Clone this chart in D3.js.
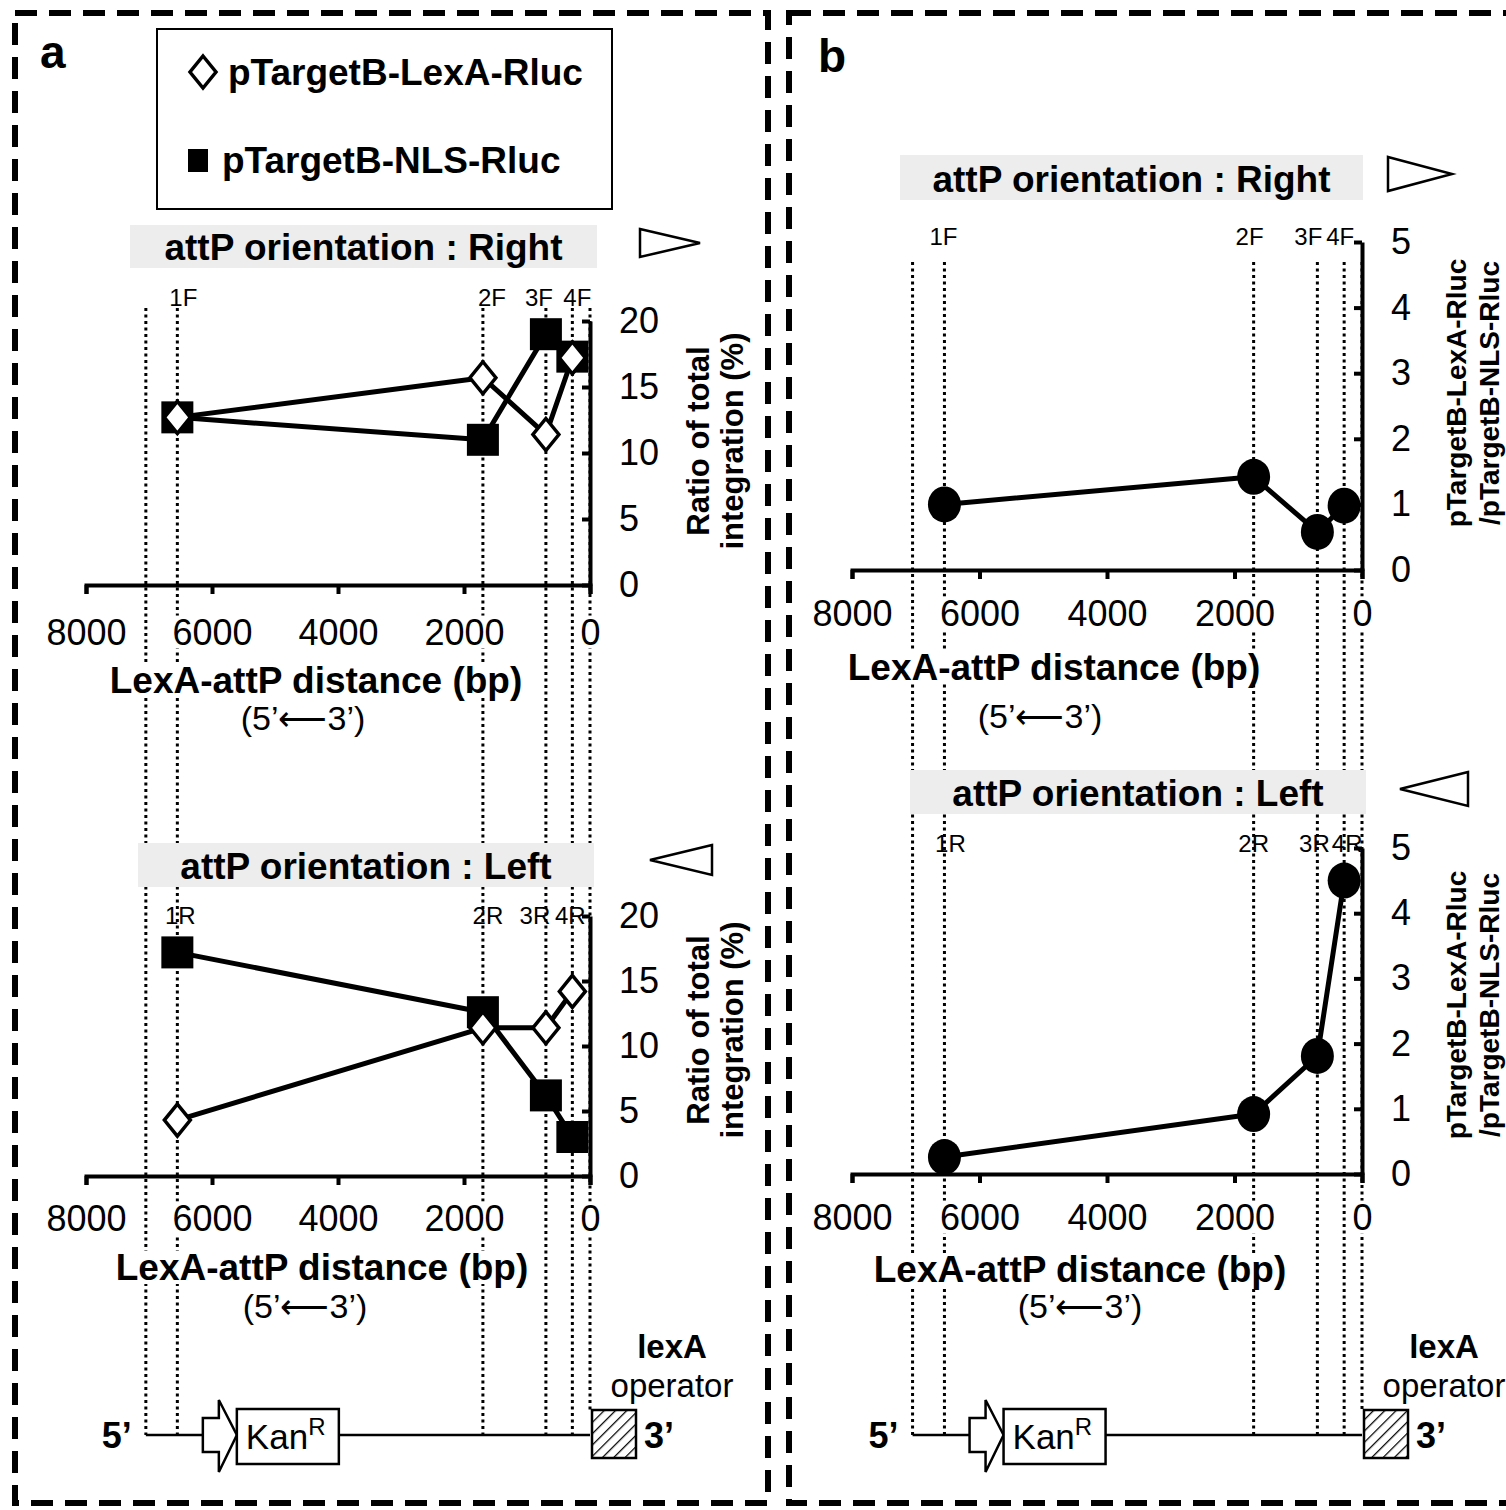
<!DOCTYPE html>
<html><head><meta charset="utf-8">
<script src="https://cdn.jsdelivr.net/npm/d3@7/dist/d3.min.js"></script>
<style>
body{margin:0;background:#fff}
svg{display:block}
text{font-family:"Liberation Sans",Arial,sans-serif;fill:#000}
</style></head><body>
<svg id="fig" width="1506" height="1510"></svg>
<script>
// sites measured from the lexA operator (bp), plus plasmid end
const sites = [6550, 1700, 700, 280];
const plasmidEnd = 7050;
const labelsF = ["1F", "2F", "3F", "4F"];
const labelsR = ["1R", "2R", "3R", "4R"];
// ratio of total integration (%)
const lexaRight = [12.7, 15.7, 11.4, 17.2];
const nlsRight = [12.7, 11.0, 19.0, 17.3];
const lexaLeft = [4.3, 11.4, 11.4, 14.2];
const nlsLeft = [17.2, 12.6, 6.2, 3.0];
// LexA / NLS ratio
const ratioRight = [1.0, 1.42, 0.58, 0.98];
const ratioLeft = [0.26, 0.92, 1.81, 4.5];
const distTicks = [8000, 6000, 4000, 2000, 0];
const pctTicks = [0, 5, 10, 15, 20];
const ratioTicks = [0, 1, 2, 3, 4, 5];

const svg = d3.select('#fig');
const defs = svg.append('defs');
defs.append('pattern').attr('id', 'hatch').attr('patternUnits', 'userSpaceOnUse')
  .attr('width', 8).attr('height', 8).attr('patternTransform', 'rotate(45)')
  .append('line').attr('x1', 0).attr('y1', 0).attr('x2', 0).attr('y2', 8)
  .attr('stroke', '#000').attr('stroke-width', 2.5);

const linesL = svg.append('g');
const knockL = svg.append('g');
const main = svg.append('g');

const xA = d3.scaleLinear().domain([8000, 0]).range([86, 590]);
const xB = d3.scaleLinear().domain([8000, 0]).range([852, 1362]);

function styleAxis(g, fs) {
  g.select('.domain').attr('stroke-width', 4);
  g.selectAll('.tick line').attr('stroke-width', 4);
  g.attr('font-size', fs);
}

function guides(x, yTop) {
  [plasmidEnd, ...sites, 0].forEach(d => {
    linesL.append('line').attr('x1', x(d)).attr('x2', x(d))
      .attr('y1', yTop).attr('y2', d === 0 ? 1410 : 1435)
      .attr('stroke', '#000').attr('stroke-width', 3).attr('stroke-dasharray', '3,3.5');
  });
}

function marker(g, type, cx, cy) {
  if (type === 'square') {
    g.append('rect').attr('x', cx - 16).attr('y', cy - 16).attr('width', 32).attr('height', 32)
      .attr('fill', '#000');
  } else if (type === 'diamond') {
    g.append('path').attr('d', `M${cx},${cy - 16}L${cx + 13},${cy}L${cx},${cy + 16}L${cx - 13},${cy}Z`)
      .attr('fill', '#fff').attr('stroke', '#000').attr('stroke-width', 3.5);
  } else {
    g.append('ellipse').attr('cx', cx).attr('cy', cy).attr('rx', 16.5).attr('ry', 18).attr('fill', '#000');
  }
}

function drawChart(o) {
  const x = o.x;
  const y = d3.scaleLinear().domain([0, o.yMax]).range([o.yBase, o.yTop]);

  const gx = main.append('g').attr('transform', `translate(0,${o.yBase})`)
    .call(d3.axisBottom(x).tickValues(distTicks).tickFormat(d3.format('d'))
      .tickSizeOuter(0).tickSize(9).tickPadding(o.xPad));
  styleAxis(gx, 36);
  gx.selectAll('text').classed('ko', true);

  const gy = main.append('g').attr('transform', `translate(${x(0)},0)`)
    .call(d3.axisRight(y).tickValues(o.yTicks).tickFormat(d3.format('d'))
      .tickSizeOuter(0).tickSizeInner(-8).tickPadding(29));
  styleAxis(gy, 36);

  const line = d3.line().x((d, i) => x(sites[i])).y(d => y(d));
  o.series.forEach(s => {
    main.append('path').attr('d', line(s.values)).attr('fill', 'none')
      .attr('stroke', '#000').attr('stroke-width', 5).attr('stroke-linejoin', 'round');
  });
  o.series.forEach(s => {
    s.values.forEach((v, i) => marker(main, s.marker, x(sites[i]), y(v)));
  });

  o.labels.forEach((t, i) => {
    main.append('text').attr('x', x(sites[i]) + o.labelDx[i]).attr('y', o.labelY)
      .attr('text-anchor', 'middle').attr('font-size', 24).text(t);
  });

  // gray orientation banner
  main.append('rect').attr('x', o.banner[0]).attr('y', o.banner[1])
    .attr('width', o.banner[2]).attr('height', o.banner[3]).attr('fill', '#ededed');
  main.append('text').attr('x', o.banner[0] + o.banner[2] / 2).attr('y', o.banner[1] + o.banner[3] - 8)
    .attr('text-anchor', 'middle').attr('font-size', 37).attr('font-weight', 'bold').text(o.bannerText);
  main.append('path').attr('d', o.tri).attr('fill', 'none').attr('stroke', '#000').attr('stroke-width', 2.5);

  // axis titles
  main.append('text').attr('class', 'ko').attr('x', o.xTitle[0]).attr('y', o.xTitle[1])
    .attr('text-anchor', 'middle').attr('font-size', 37).attr('font-weight', 'bold')
    .text('LexA-attP distance (bp)');
  main.append('text').attr('x', o.xSub[0]).attr('y', o.xSub[1])
    .attr('text-anchor', 'middle').attr('font-size', 34).text('(5\u2019\u27F53\u2019)');
  o.yTitle.forEach((t, i) => {
    main.append('text')
      .attr('transform', `translate(${o.yTitleX[i]},${o.yTitleY}) rotate(-90)`)
      .attr('text-anchor', 'middle').attr('font-size', o.yTitleSize).attr('font-weight', 'bold').text(t);
  });
}

function drawConstruct(x) {
  const y = 1435, x0 = x(0), xe = x(plasmidEnd);
  main.append('line').attr('x1', xe).attr('x2', x0).attr('y1', y).attr('y2', y)
    .attr('stroke', '#000').attr('stroke-width', 2.5);
  const ax = xe + 57;
  main.append('path')
    .attr('d', `M${ax},${y - 17}H${ax + 16}V${y - 35}L${ax + 34},${y}L${ax + 16},${y + 37}V${y + 17}H${ax}Z`)
    .attr('fill', '#fff').attr('stroke', '#000').attr('stroke-width', 2.5);
  main.append('rect').attr('x', ax + 34).attr('y', y - 26).attr('width', 102).attr('height', 55)
    .attr('fill', '#fff').attr('stroke', '#000').attr('stroke-width', 2.5);
  const kt = main.append('text').attr('x', ax + 43).attr('y', y + 14).attr('font-size', 35);
  kt.append('tspan').text('Kan');
  kt.append('tspan').attr('dy', -14).attr('font-size', 24).text('R');
  main.append('rect').attr('x', x0 + 2).attr('y', y - 25).attr('width', 44).attr('height', 48)
    .attr('fill', 'url(#hatch)').attr('stroke', '#000').attr('stroke-width', 2.5);
  main.append('text').attr('x', xe - 14).attr('y', y + 13).attr('text-anchor', 'end')
    .attr('font-size', 36).attr('font-weight', 'bold').text('5\u2019');
  main.append('text').attr('x', x0 + 54).attr('y', y + 13)
    .attr('font-size', 36).attr('font-weight', 'bold').text('3\u2019');
  main.append('text').attr('x', x0 + 82).attr('y', y - 77).attr('text-anchor', 'middle')
    .attr('font-size', 33).attr('font-weight', 'bold').text('lexA');
  main.append('text').attr('x', x0 + 82).attr('y', y - 38).attr('text-anchor', 'middle')
    .attr('font-size', 33).text('operator');
}

// ---- panel a ----
guides(xA, 308);
drawChart({
  x: xA, yBase: 585, yTop: 321, yMax: 20, yTicks: pctTicks, xPad: 25,
  series: [{values: nlsRight, marker: 'square'}, {values: lexaRight, marker: 'diamond'}],
  labels: labelsF, labelDx: [6, 9, -7, 5], labelY: 306,
  banner: [130, 225, 467, 43], bannerText: 'attP orientation : Right',
  tri: 'M640,229L700,243L640,257Z',
  xTitle: [316, 693], xSub: [303, 730],
  yTitle: ['Ratio of total', 'integration (%)'], yTitleX: [709, 743], yTitleY: 441, yTitleSize: 31
});
drawChart({
  x: xA, yBase: 1176, yTop: 916, yMax: 20, yTicks: pctTicks, xPad: 20,
  series: [{values: nlsLeft, marker: 'square'}, {values: lexaLeft, marker: 'diamond'}],
  labels: labelsR, labelDx: [3, 5, -11, -2], labelY: 924,
  banner: [138, 843, 456, 44], bannerText: 'attP orientation : Left',
  tri: 'M712,845L650,860L712,875Z',
  xTitle: [322, 1280], xSub: [305, 1318],
  yTitle: ['Ratio of total', 'integration (%)'], yTitleX: [709, 743], yTitleY: 1030, yTitleSize: 31
});
drawConstruct(xA);

// ---- panel b ----
guides(xB, 262);
drawChart({
  x: xB, yBase: 570, yTop: 242, yMax: 5, yTicks: ratioTicks, xPad: 21,
  series: [{values: ratioRight, marker: 'circle'}],
  labels: labelsF, labelDx: [-1, -4, -9, -4], labelY: 245,
  banner: [900, 155, 463, 45], bannerText: 'attP orientation : Right',
  tri: 'M1388,157L1452,174L1388,191Z',
  xTitle: [1054, 680], xSub: [1040, 728],
  yTitle: ['pTargetB-LexA-Rluc', '/pTargetB-NLS-Rluc'], yTitleX: [1466, 1499], yTitleY: 393, yTitleSize: 28
});
drawChart({
  x: xB, yBase: 1174, yTop: 848, yMax: 5, yTicks: ratioTicks, xPad: 21,
  series: [{values: ratioLeft, marker: 'circle'}],
  labels: labelsR, labelDx: [6, 0, -3, 3], labelY: 852,
  banner: [910, 770, 456, 44], bannerText: 'attP orientation : Left',
  tri: 'M1468,772L1400,789L1468,806Z',
  xTitle: [1080, 1282], xSub: [1080, 1318],
  yTitle: ['pTargetB-LexA-Rluc', '/pTargetB-NLS-Rluc'], yTitleX: [1466, 1499], yTitleY: 1005, yTitleSize: 28
});
drawConstruct(xB);

// ---- legend + panel letters ----
main.append('rect').attr('x', 157).attr('y', 29).attr('width', 455).attr('height', 180)
  .attr('fill', '#fff').attr('stroke', '#000').attr('stroke-width', 2);
marker(main, 'diamond', 203, 72);
main.append('text').attr('x', 228).attr('y', 85).attr('font-size', 37).attr('font-weight', 'bold').text('pTargetB-LexA-Rluc');
main.append('rect').attr('x', 188).attr('y', 149).attr('width', 20).attr('height', 23).attr('fill', '#000');
main.append('text').attr('x', 222).attr('y', 173).attr('font-size', 37).attr('font-weight', 'bold').text('pTargetB-NLS-Rluc');
main.append('text').attr('x', 40).attr('y', 68).attr('font-size', 46).attr('font-weight', 'bold').text('a');
main.append('text').attr('x', 818).attr('y', 72).attr('font-size', 46).attr('font-weight', 'bold').text('b');

// dashed panel frames
[[15, 13, 753, 1490], [789, 13, 760, 1490]].forEach(r => {
  main.append('rect').attr('x', r[0]).attr('y', r[1]).attr('width', r[2]).attr('height', r[3])
    .attr('fill', 'none').attr('stroke', '#000').attr('stroke-width', 6).attr('stroke-dasharray', '22,12');
});

// white knock-outs behind text that crosses the dotted guides
main.selectAll('text.ko').each(function () {
  const b = this.getBoundingClientRect();
  knockL.append('rect').attr('x', b.x - 2).attr('y', b.y + 4).attr('width', b.width + 4)
    .attr('height', b.height - 8).attr('fill', '#fff');
});
</script>
</body></html>
